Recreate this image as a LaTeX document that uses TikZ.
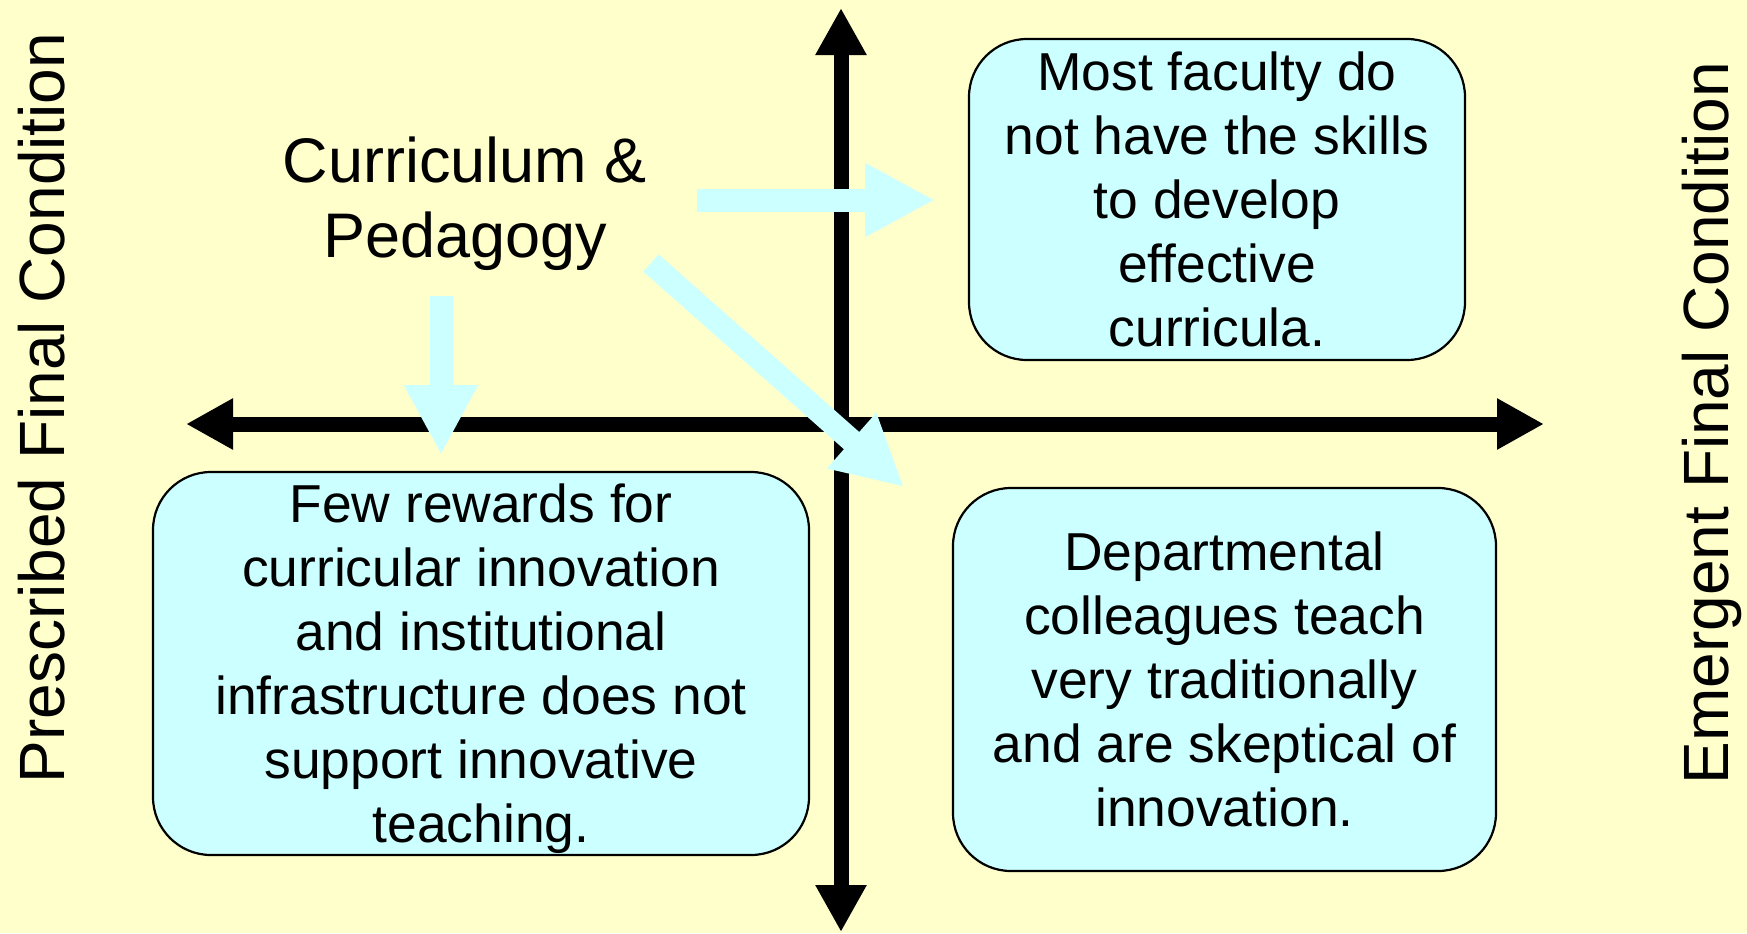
\documentclass[tikz,border=0pt]{standalone}
\usepackage{fontspec}
\setmainfont{Liberation Sans}
\usetikzlibrary{arrows.meta}
\definecolor{paper}{HTML}{FFFFCC}
\definecolor{paleblue}{HTML}{CCFFFF}

\begin{document}
\begin{tikzpicture}[
  x=0.5pt, y=-0.5pt,
  barrier/.style={
    draw=black, fill=paleblue, rounded corners=29pt, line width=1.1pt,
    align=center, inner sep=0pt, text depth=0pt,
    font=\fontsize{26.7pt}{32pt}\selectfont
  },
  axis/.style={
    line width=7.5pt,
    {Triangle[length=23.5pt,width=24pt]}-{Triangle[length=23.5pt,width=24pt]}
  },
  push/.style={line width=11.5pt, color=paleblue, -{Triangle[length=35pt,width=34.5pt]}},
  condition/.style={rotate=90, anchor=base, font=\fontsize{32pt}{38pt}\selectfont}
]
  \fill[paper] (0,0) rectangle (1747,933);
  \useasboundingbox (0,0) rectangle (1747,933);

  % the two axes
  \coordinate (top) at (841,8);
  \coordinate (bottom) at (841,932);
  \coordinate (west) at (186,424);
  \coordinate (east) at (1544,424);
  \draw[axis] (bottom) -- (top);
  \draw[axis] (west) -- (east);

  \node[font=\fontsize{31.5pt}{37.5pt}\selectfont, align=center] (topic) at (465,204) {Curriculum \&\\Pedagogy};

  \coordinate (toright) at (697,200);
  \coordinate (skillsin) at (935,200);
  \coordinate (todown) at (441,296);
  \coordinate (rewardsin) at (441,455);
  \coordinate (todiag) at (651,263);
  \coordinate (colleaguesin) at (904,487);
  \draw[push] (toright) -- (skillsin);
  \draw[push] (todown) -- (rewardsin);
  \draw[push] (todiag) -- (colleaguesin);

  \node[barrier, minimum width=248pt, minimum height=160.5pt] (skills) at (1217,199.5)
    {Most faculty do\\not have the skills\\to develop\\effective\\curricula.};
  \node[barrier, minimum width=328pt, minimum height=191.5pt] (rewards) at (481,663.5)
    {Few rewards for\\curricular innovation\\and institutional\\infrastructure does not\\support innovative\\teaching.};
  \node[barrier, minimum width=271.5pt, minimum height=191.5pt] (colleagues) at (1224.5,679.5)
    {Departmental\\colleagues teach\\very traditionally\\and are skeptical of\\innovation.};

  \node[condition] (prescribed) at (64,408) {Prescribed Final Condition};
  \node[condition] (emergent) at (1728,423) {Emergent Final Condition};
\end{tikzpicture}
\end{document}
